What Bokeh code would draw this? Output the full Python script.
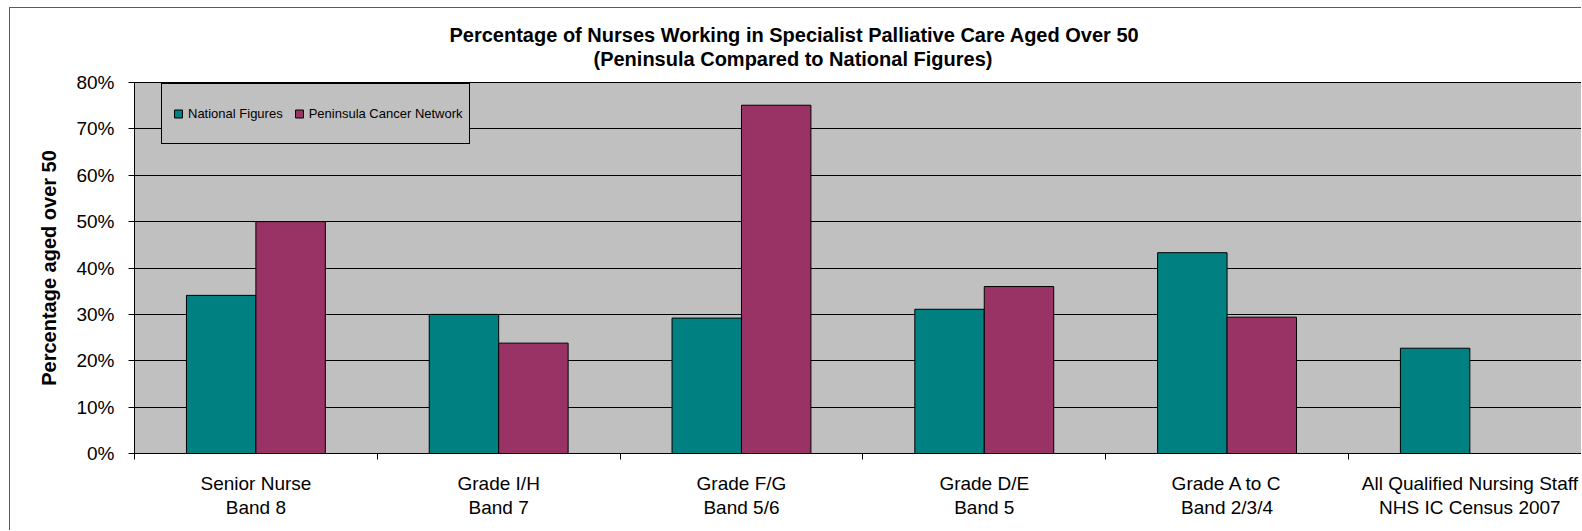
from bokeh.plotting import figure
from bokeh.models import (FixedTicker, Legend, LegendItem, Title, ColumnDataSource,
                          NumeralTickFormatter, Range1d)
from bokeh.transform import dodge
from bokeh.embed import file_html
from bokeh.resources import INLINE

# ---- data ----
categories = ["Senior Nurse\nBand 8", "Grade I/H\nBand 7", "Grade F/G\nBand 5/6",
              "Grade D/E\nBand 5", "Grade A to C\nBand 2/3/4",
              "All Qualified Nursing Staff\nNHS IC Census 2007"]
national = [0.341, 0.300, 0.292, 0.311, 0.433, 0.227]
peninsula = [0.500, 0.238, 0.751, 0.360, 0.294, float("nan")]
series_names = ["National Figures", "Peninsula Cancer Network"]
y_ticks = [0.0, 0.1, 0.2, 0.3, 0.4, 0.5, 0.6, 0.7, 0.8]

title_line1 = "Percentage of Nurses Working in Specialist Palliative Care Aged Over 50"
title_line2 = "(Peninsula Compared to National Figures)"
y_title = "Percentage aged over 50"

# ---- styling ----
FONT = "Liberation Sans"
TEAL = "#008080"
MAROON = "#993366"
GREY = "#C0C0C0"

pos = [i + 0.5 for i in range(len(categories))]
src = ColumnDataSource(dict(pos=pos, national=national, peninsula=peninsula))

W, H = 1572, 523
p = figure(width=W, height=H, output_backend="svg", toolbar_location=None, tools="",
           title=None,
           x_range=Range1d(0, 5.964), y_range=Range1d(0, 0.8),
           min_border_left=124, min_border_right=0, min_border_bottom=78, min_border_top=74)

p.styles = {"border-left": "1px solid #5a5a5a", "border-top": "1px solid #5a5a5a",
            "margin-left": "9px", "margin-top": "7px"}

p.background_fill_color = GREY
p.border_fill_color = "white"
p.outline_line_color = "black"

bw = 0.286
p.vbar(x=dodge("pos", -bw / 2), top="national", width=bw, source=src,
       fill_color=TEAL, line_color="black", line_width=1)
p.vbar(x=dodge("pos", bw / 2), top="peninsula", width=bw, source=src,
       fill_color=MAROON, line_color="black", line_width=1)

# legend swatches (hidden square markers on the same data)
r1 = p.scatter(x="pos", y="national", source=src, marker="square",
               fill_color=TEAL, line_color="black", visible=False)
r2 = p.scatter(x="pos", y="peninsula", source=src, marker="square",
               fill_color=MAROON, line_color="black", visible=False)
legend = Legend(items=[LegendItem(label=series_names[0], renderers=[r1]),
                       LegendItem(label=series_names[1], renderers=[r2])],
                location=(27, 309), orientation="horizontal",
                label_text_font_size="13px", label_text_font=FONT, label_text_color="black",
                glyph_width=20, glyph_height=47, label_height=47,
                label_standoff=0, spacing=6, padding=6, margin=0,
                border_line_color="black", border_line_width=1, border_line_alpha=1,
                background_fill_color=GREY, background_fill_alpha=1)
p.add_layout(legend)

# titles (a thin blank title keeps the gap between the heading and the plot area)
gap = Title(text=" ", text_font_size="9.5px", standoff=0)
t2 = Title(text=title_line2, align="left", text_font_size="20px", text_font_style="bold",
           text_font=FONT, text_color="black", offset=459, standoff=0)
t1 = Title(text=title_line1, align="left", text_font_size="20px", text_font_style="bold",
           text_font=FONT, text_color="black", offset=315, standoff=0)
p.add_layout(gap, "above")
p.add_layout(t2, "above")
p.add_layout(t1, "above")

# y axis
yax = p.yaxis[0]
yax.ticker = FixedTicker(ticks=y_ticks)
yax.formatter = NumeralTickFormatter(format="0%")
yax.major_label_text_font = FONT
yax.major_label_text_font_size = "19px"
yax.major_label_text_color = "black"
yax.major_tick_out = 6
yax.major_tick_in = 0
yax.minor_tick_line_color = None
yax.axis_line_color = "black"
yax.major_tick_line_color = "black"
yax.major_label_standoff = 14
yax.axis_label = y_title
yax.axis_label_text_font = FONT
yax.axis_label_text_font_size = "20px"
yax.axis_label_text_font_style = "bold"
yax.axis_label_text_color = "black"
yax.axis_label_standoff = 13

# x axis
xax = p.xaxis[0]
xax.ticker = FixedTicker(ticks=pos, minor_ticks=list(range(len(categories) + 1)))
xax.major_label_overrides = {x: c for x, c in zip(pos, categories)}
xax.major_label_text_font = FONT
xax.major_label_text_font_size = "19px"
xax.major_label_text_color = "black"
xax.major_label_text_line_height = 1.15
xax.major_tick_line_color = None
xax.major_tick_out = 0
xax.major_tick_in = 0
xax.minor_tick_line_color = "black"
xax.minor_tick_out = 6
xax.minor_tick_in = 0
xax.axis_line_color = "black"
xax.major_label_standoff = 13

p.ygrid.ticker = FixedTicker(ticks=y_ticks)
p.ygrid.grid_line_color = "black"
p.ygrid.grid_line_alpha = 1
p.xgrid.grid_line_color = None

open("out.html", "w").write(file_html(p, INLINE))
